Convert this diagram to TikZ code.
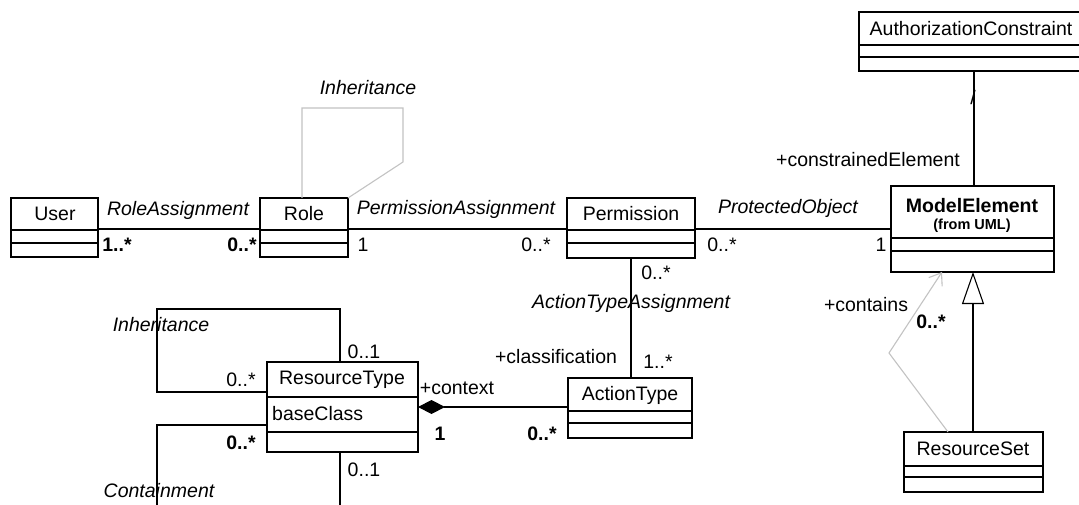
\documentclass[tikz,border=0pt]{standalone}
\usepackage{fontspec}
\setmainfont{Liberation Sans}
\usetikzlibrary{arrows.meta}
\definecolor{lightline}{RGB}{195,195,195}
\tikzset{
  classbox/.style={draw=black, line width=1.2pt, inner sep=0pt, outer sep=0pt},
  sepline/.style={draw=black, line width=1.2pt},
  assoc/.style={draw=black, line width=1.2pt},
  grayassoc/.style={draw=lightline, line width=1.1pt},
  ctext/.style={inner sep=0pt, font=\fontsize{19.5}{22}\selectfont},
  btext/.style={inner sep=0pt, font=\fontsize{19.5}{22}\selectfont\bfseries},
  itext/.style={inner sep=0pt, font=\fontsize{19.5}{22}\selectfont\itshape},
  mult/.style={inner sep=0pt, font=\fontsize{19.5}{22}\selectfont},
  bmult/.style={inner sep=0pt, font=\fontsize{19.5}{22}\selectfont\bfseries},
}
\newcommand\umlclass[7]{%
  \node[classbox, minimum width={#4-#2}, minimum height={#5-#3}, anchor=north west] (#1) at (#2,#3) {};
  \draw[sepline] (#1.west |- 0,#6) -- (#1.east |- 0,#6) (#1.west |- 0,#7) -- (#1.east |- 0,#7);
}
\begin{document}
\begin{tikzpicture}[x=1pt,y=-1pt]
\clip (0,0) rectangle (1079,505);
\fill[white] (0,0) rectangle (1079,505);

% classes
\umlclass{user}{11}{198}{98}{257}{230}{243}
\node[ctext] (user-name) at (55,214) {User};
\umlclass{role}{260}{198}{348}{257}{230}{243}
\node[ctext] (role-name) at (304,214) {Role};
\umlclass{perm}{567}{198}{695}{258}{230}{243}
\node[ctext] (perm-name) at (631,214) {Permission};
\umlclass{me}{891}{186}{1054}{272}{238}{251}
\node[btext] (me-name) at (972,206) {ModelElement};
\node[inner sep=0pt, font=\fontsize{14.5}{16}\selectfont\bfseries] (me-from) at (972,226) {(from UML)};
\umlclass{ac}{859}{12}{1090}{71}{45}{57}
\node[ctext] (ac-name) at (971,29) {AuthorizationConstraint};
\umlclass{rt}{267}{362}{418}{452}{397}{432}
\node[ctext] (rt-name) at (342,380) {ResourceType};
\node[ctext, anchor=west] (rt-attr) at (272,414) {baseClass};
\umlclass{at}{568}{378}{692}{438}{411}{423}
\node[ctext] (at-name) at (630,395) {ActionType};
\umlclass{rs}{904}{432}{1043}{492}{466}{477}
\node[ctext] (rs-name) at (973,449) {ResourceSet};

% associations
\draw[assoc] (user.east |- 0,229) -- (role.west |- 0,229);
\draw[assoc] (role.east |- 0,229) -- (perm.west |- 0,229);
\draw[assoc] (perm.east |- 0,229) -- (me.west |- 0,229);
\draw[assoc] (ac.south -| 974,0) -- (me.north -| 974,0);
\draw[assoc] (perm.south -| 631,0) -- (at.north -| 631,0);
\draw[assoc, {Diamond[length=27pt,width=14pt]}-] (rt.east |- 0,407) -- (at.west |- 0,407);
\draw[assoc] (rt.north -| 340,0) -- (340,309) -- (157,309) -- (157,392) -- (rt.west |- 0,392);
\draw[assoc] (rt.west |- 0,425) -- (157,425) -- (157,520);
\draw[assoc] (rt.south -| 340,0) -- (340,520);
\draw[grayassoc] (role.north -| 302,0) -- (302,108) -- (403,108) -- (403,162) -- (role.north east);
\draw[assoc, -{Triangle[open, length=32pt, width=22pt, line width=1.1pt]}] (rs.north -| 973,0) -- (me.south -| 973,0);
\draw[grayassoc, -{Straight Barb[length=11pt, width=16pt]}] (rs.north -| 948,0) -- (889,353) -- (me.south -| 942,0);

% labels
\node[itext] (l-inh1) at (368,88) {Inheritance};
\node[itext] (l-ra) at (178,210) {RoleAssignment};
\node[bmult] (m-ra1) at (117,245) {1..*};
\node[bmult] (m-ra2) at (242,245) {0..*};
\node[itext] (l-pa) at (456,209) {PermissionAssignment};
\node[mult] (m-pa1) at (363,245) {1};
\node[mult] (m-pa2) at (536,245) {0..*};
\node[itext] (l-po) at (788,208) {ProtectedObject};
\node[mult] (m-po1) at (722,245) {0..*};
\node[mult] (m-po2) at (881,245) {1};
\node[ctext] (l-slash) at (973,98) {/};
\node[ctext] (l-ce) at (868,160) {+constrainedElement};
\node[mult] (m-ata1) at (656,273) {0..*};
\node[itext] (l-ata) at (631,303) {ActionTypeAssignment};
\node[ctext] (l-cls) at (556,357) {+classification};
\node[mult] (m-ata2) at (658,362) {1..*};
\node[ctext] (l-ctx) at (457,388) {+context};
\node[bmult] (m-ctx1) at (440,434) {1};
\node[bmult] (m-ctx2) at (542,434) {0..*};
\node[mult] (m-inh1) at (364,352) {0..1};
\node[mult] (m-inh2) at (241,380) {0..*};
\node[itext] (l-inh2) at (161,325) {Inheritance};
\node[bmult] (m-con1) at (241,443) {0..*};
\node[mult] (m-con2) at (364,470) {0..1};
\node[itext] (l-con) at (159,491) {Containment};
\node[ctext] (l-contains) at (866,305) {+contains};
\node[bmult] (m-contains) at (931,322) {0..*};
\end{tikzpicture}
\end{document}
